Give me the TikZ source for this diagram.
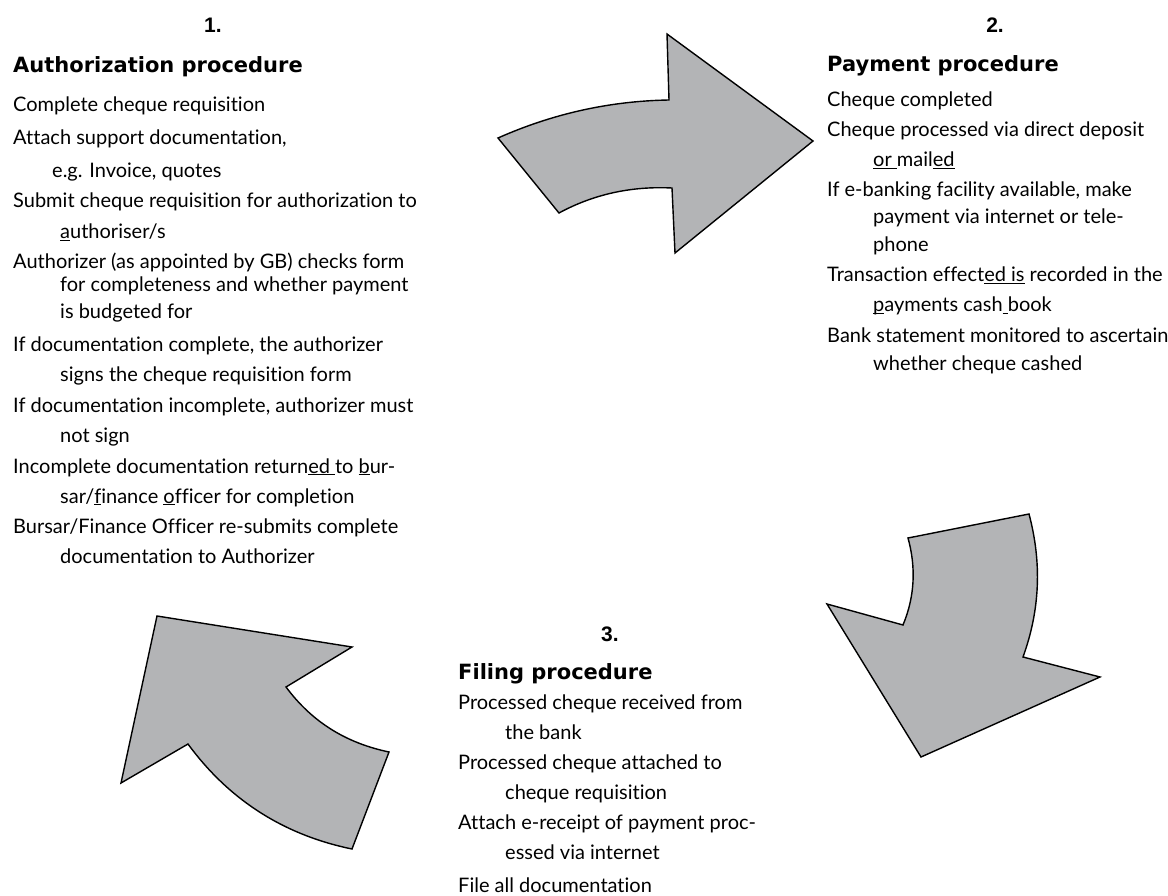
\documentclass[tikz,border=0pt]{standalone}
\usepackage{fontspec}
\setmainfont{Lato}[Ligatures=NoCommon]
\newfontfamily\headfont{DejaVu Sans}
\newfontfamily\numfont{Liberation Sans}
\newcommand{\ulx}[1]{\underline{\smash{#1}}}
\definecolor{arrowgray}{RGB}{179,180,182}
\tikzset{
  txt/.style={anchor=base west, inner sep=0pt, font=\fontsize{20}{24}\selectfont},
  head/.style={anchor=base west, inner sep=0pt, font=\headfont\bfseries\fontsize{21}{25}\selectfont},
  num/.style={anchor=base, inner sep=0pt, font=\numfont\bfseries\fontsize{21}{25}\selectfont},
  bigarrow/.style={draw=black, fill=arrowgray, line width=1.4pt, line join=miter}
}

\begin{document}
\begin{tikzpicture}[x=1pt,y=-1pt]
\useasboundingbox (0,0) rectangle (1168,896);

% arrows
\filldraw[bigarrow] (498,138) .. controls (552,114) and (609,101) .. (669,100) -- (667,34) -- (813,141) -- (675,253) -- (672,188) .. controls (632,186) and (594,194) .. (559,213) -- cycle;
\filldraw[bigarrow] (908,538) -- (1029,514) .. controls (1042,563) and (1040,610) .. (1023,657) -- (1100,677) -- (921,757) -- (827,604) -- (903,625) .. controls (915,596) and (916,567) .. (908,538) -- cycle;
\filldraw[bigarrow] (157,616) -- (352,647) -- (286,687) .. controls (312,722) and (346,743) .. (389,752) -- (352,849) .. controls (284,835) and (229,800) .. (188,744) -- (121,783) -- cycle;

% 1. authorization
\node[num] (n1) at (213,33) {1.};
\node[head] (h1) at (13,73) {Authorization procedure};
\node[txt] (a1) at (13,112) {Complete cheque requisition};
\node[txt] (a2) at (13,145) {Attach support documentation,};
\node[txt] (a3) at (52,178) {e.g. Invoice, quotes};
\node[txt] (a4) at (13,208) {Submit cheque requisition for authorization to};
\node[txt] (a5) at (60,239) {\ulx{a}uthoriser/s};
\node[txt] (a6) at (13,269) {Authorizer (as appointed by GB) checks form};
\node[txt] (a7) at (60,291) {for completeness and whether payment};
\node[txt] (a8) at (60,319) {is budgeted for};
\node[txt] (a9) at (13,351) {If documentation complete, the authorizer};
\node[txt] (a10) at (60,381) {signs the cheque requisition form};
\node[txt] (a11) at (13,412) {If documentation incomplete, authorizer must};
\node[txt] (a12) at (60,442) {not sign};
\node[txt] (a13) at (13,473) {Incomplete documentation return\ulx{ed\ }to \ulx{b}ur-};
\node[txt] (a14) at (60,503) {sar/\ulx{f}inance \ulx{o}fficer for completion};
\node[txt] (a15) at (13,533) {Bursar/Finance Officer re-submits complete};
\node[txt] (a16) at (60,563) {documentation to Authorizer};

% 2. payment
\node[num] (n2) at (995,33) {2.};
\node[head] (h2) at (827,72) {Payment procedure};
\node[txt] (p1) at (827,107) {Cheque completed};
\node[txt] (p2) at (827,137) {Cheque processed via direct deposit};
\node[txt] (p3) at (873,167) {\ulx{or\ }mail\ulx{ed}};
\node[txt] (p4) at (827,197) {If e-banking facility available, make};
\node[txt] (p5) at (873,224) {payment via internet or tele-};
\node[txt] (p6) at (873,252) {phone};
\node[txt] (p7) at (827,282) {Transaction effect\ulx{ed is} recorded in the};
\node[txt] (p8) at (873,312) {\ulx{p}ayments cash\ulx{\ }book};
\node[txt] (p9) at (827,342) {Bank statement monitored to ascertain};
\node[txt] (p10) at (873,370) {whether cheque cashed};

% 3. filing
\node[num] (n3) at (610,641) {3.};
\node[head] (h3) at (458,679) {Filing procedure};
\node[txt] (f1) at (458,709) {Processed cheque received from};
\node[txt] (f2) at (505,739) {the bank};
\node[txt] (f3) at (458,769) {Processed cheque attached to};
\node[txt] (f4) at (505,799) {cheque requisition};
\node[txt] (f5) at (458,829) {Attach e-receipt of payment proc-};
\node[txt] (f6) at (505,859) {essed via internet};
\node[txt] (f7) at (458,892) {File all documentation};
\end{tikzpicture}
\end{document}
